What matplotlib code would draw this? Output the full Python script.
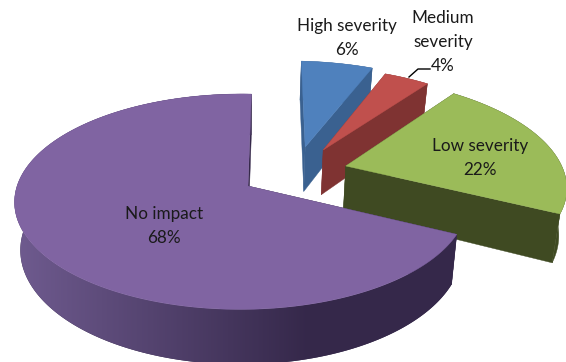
import numpy as np
import matplotlib
matplotlib.use('Agg')
import matplotlib.pyplot as plt
from matplotlib.patches import Polygon
from matplotlib.colors import to_rgb, LinearSegmentedColormap

# data
categories = ['High severity', 'Medium\nseverity', 'Low severity', 'No impact']
values = [6, 4, 22, 68]

# style of the slices
top_colors = ['#4F81BD', '#C0504D', '#9BBB59', '#8064A2']
side_colors = ['#3A6190', '#7F3332', '#3F4A22', '#35284A']
explode = [(0.272, 0.394), (0.357, 0.363), (0.455, 0.198), (0, 0)]
radius = [1.05, 1.0, 1.05, 1.0]
label_pos = [(347, 38), (443, 42), (480, 158), (164, 226)]

# fake 3d view of the pie: a flat disc seen in perspective
CX, CY = 248, 186
A, B = 224, 105.4
K, M = 0.1455, 0.03
DEPTH = 47
START = 1.0


def project(wx, wy):
    d = 1 + K * wy + M * wx
    return CX + A * wx / d, CY - B * wy / d


def project_low(wx, wy):
    x, y = project(wx, wy)
    return CX + 0.975 * (x - CX), y + DEPTH / (1 + K * wy)


def poly(xs, ys, color, z):
    p = Polygon(np.column_stack([xs, ys]), closed=True, facecolor=color,
                edgecolor=color, linewidth=0.3, zorder=z)
    ax.add_patch(p)
    return p


fig = plt.figure(figsize=(5.66, 3.62), dpi=100)
ax = fig.add_axes([0, 0, 1, 1])

wall_cmap = LinearSegmentedColormap.from_list('wall', ['#6E5A8E', '#35284A'])

angle = START
for i, val in enumerate(values):
    span = val / sum(values) * 360
    t = np.radians(np.linspace(angle, angle + span, 240))
    angle += span
    ox, oy = explode[i]
    wx = ox + radius[i] * np.sin(t)
    wy = oy + radius[i] * np.cos(t)
    z = i * 10
    # cut faces
    for j in (0, -1):
        x0, y0 = project(ox, oy)
        x1, y1 = project(wx[j], wy[j])
        x2, y2 = project_low(wx[j], wy[j])
        x3, y3 = project_low(ox, oy)
        poly([x0, x1, x2, x3], [y0, y1, y2, y3], side_colors[i], z)
    # outer wall
    xt, yt = project(wx, wy)
    xb, yb = project_low(wx, wy)
    wall = poly(np.r_[xt, xb[::-1]], np.r_[yt, yb[::-1]], side_colors[i], z + 1)
    if i == 3:
        # purple wall gets darker from left to right
        wall.set_linewidth(0)
        grad = np.linspace(0, 1, 290).reshape(1, -1)
        im = ax.imshow(grad, extent=(20, 310, 362, 0), cmap=wall_cmap, aspect='auto', zorder=z + 1)
        im2 = ax.imshow(np.ones((1, 2)), extent=(310, 566, 362, 0), cmap=wall_cmap, vmin=0, vmax=1,
                        aspect='auto', zorder=z + 1)
        im3 = ax.imshow(np.zeros((1, 2)), extent=(0, 20, 362, 0), cmap=wall_cmap, vmin=0, vmax=1,
                        aspect='auto', zorder=z + 1)
        for m in (im, im2, im3):
            m.set_clip_path(wall)
    # top face
    ax0, ay0 = project(ox, oy)
    poly(np.r_[ax0, xt], np.r_[ay0, yt], top_colors[i], z + 2)

ax.set_xlim(0, 566)
ax.set_ylim(362, 0)
ax.axis('off')

# labels
for cat, val, (lx, ly) in zip(categories, values, label_pos):
    ax.text(lx, ly, f'{cat}\n{val}%', ha='center', va='center', fontsize=12.3,
            family='Lato', color='#1a1a1a', linespacing=1.6, zorder=100)

# leader line of the small slice
ax.plot([409, 418, 430], [77, 69, 69], color='black', lw=1, zorder=101)

plt.savefig('out.png', dpi=100)
